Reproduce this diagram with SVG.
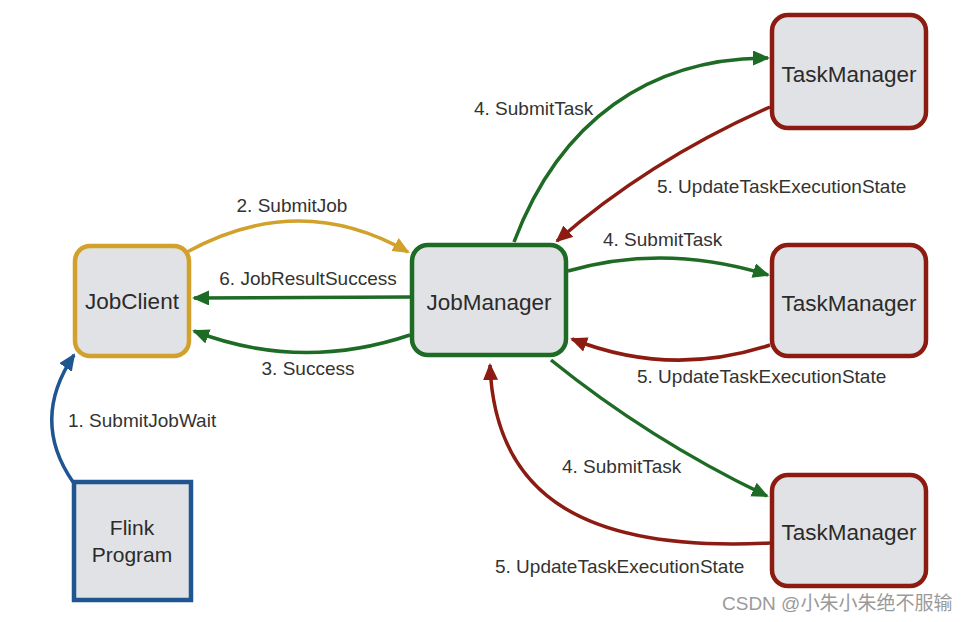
<svg xmlns="http://www.w3.org/2000/svg" width="968" height="622" viewBox="0 0 968 622">
<style>
  .box { fill: #e1e2e5; stroke-width: 4.5; }
  .nt { font-family: "Liberation Sans", Arial, sans-serif; font-size: 22.5px; fill: #2b2b2b; text-anchor: middle; }
  .lb { font-family: "Liberation Sans", Arial, sans-serif; font-size: 19px; fill: #333333; }
  .c { fill: none; stroke-width: 3.5; }
  .g { stroke: #1d6b24; }
  .r { stroke: #8c1c12; }
  .y { stroke: #d1a12c; }
  .b { stroke: #1f5591; }
</style>
<defs>
  <marker id="ag" markerUnits="userSpaceOnUse" markerWidth="18" markerHeight="16" refX="15" refY="7.5" orient="auto"><path d="M0,0 L17,7.5 L0,15 z" fill="#1d6b24"/></marker>
  <marker id="ar" markerUnits="userSpaceOnUse" markerWidth="18" markerHeight="16" refX="15" refY="7.5" orient="auto"><path d="M0,0 L17,7.5 L0,15 z" fill="#8c1c12"/></marker>
  <marker id="ay" markerUnits="userSpaceOnUse" markerWidth="18" markerHeight="16" refX="15" refY="7.5" orient="auto"><path d="M0,0 L17,7.5 L0,15 z" fill="#d1a12c"/></marker>
  <marker id="ab" markerUnits="userSpaceOnUse" markerWidth="18" markerHeight="16" refX="15" refY="7.5" orient="auto"><path d="M0,0 L17,7.5 L0,15 z" fill="#1f5591"/></marker>
</defs>
<rect width="968" height="622" fill="#ffffff"/>

<g id="connectors">
  <path class="c b" d="M73,482 Q 30,420 74,355" marker-end="url(#ab)"/>
  <path class="c y" d="M187,252 Q 300,190 408,252" marker-end="url(#ay)"/>
  <path class="c g" d="M410,297 L 194,298" marker-end="url(#ag)"/>
  <path class="c g" d="M410,335 Q 300,372 194,331" marker-end="url(#ag)"/>
  <path class="c g" d="M514,242 C 560,120 650,58 768,58" marker-end="url(#ag)"/>
  <path class="c r" d="M770,107 Q 650,160 557,241" marker-end="url(#ar)"/>
  <path class="c g" d="M568,271 Q 665,243 768,275" marker-end="url(#ag)"/>
  <path class="c r" d="M770,345 Q 670,378 572,339" marker-end="url(#ar)"/>
  <path class="c g" d="M551,360 Q 650,440 767,496" marker-end="url(#ag)"/>
  <path class="c r" d="M770,543 C 590,552 495,500 490,365" marker-end="url(#ar)"/>
</g>

<g id="labels">
  <text class="lb" x="68" y="427">1. SubmitJobWait</text>
  <text class="lb" x="292" y="212" text-anchor="middle">2. SubmitJob</text>
  <text class="lb" x="308" y="285" text-anchor="middle">6. JobResultSuccess</text>
  <text class="lb" x="308" y="375" text-anchor="middle">3. Success</text>
  <text class="lb" x="474" y="115">4. SubmitTask</text>
  <text class="lb" x="657" y="193">5. UpdateTaskExecutionState</text>
  <text class="lb" x="603" y="246">4. SubmitTask</text>
  <text class="lb" x="637" y="383">5. UpdateTaskExecutionState</text>
  <text class="lb" x="562" y="473">4. SubmitTask</text>
  <text class="lb" x="495" y="573">5. UpdateTaskExecutionState</text>
</g>

<g id="jobclient">
  <rect class="box" x="75" y="246" width="114" height="110" rx="15" stroke="#d1a12c"/>
  <text class="nt" x="132" y="309">JobClient</text>
</g>
<g id="jobmanager">
  <rect class="box" x="412" y="245" width="154" height="110" rx="16" stroke="#1d6b24"/>
  <text class="nt" x="489" y="310">JobManager</text>
</g>
<g id="taskmanager1">
  <rect class="box" x="772" y="15" width="154" height="113" rx="16" stroke="#8c1c12"/>
  <text class="nt" x="849" y="82">TaskManager</text>
</g>
<g id="taskmanager2">
  <rect class="box" x="772" y="245" width="154" height="111" rx="16" stroke="#8c1c12"/>
  <text class="nt" x="849" y="311">TaskManager</text>
</g>
<g id="taskmanager3">
  <rect class="box" x="772" y="475" width="154" height="111" rx="16" stroke="#8c1c12"/>
  <text class="nt" x="849" y="540">TaskManager</text>
</g>
<g id="flinkprogram">
  <rect class="box" x="74" y="482" width="117" height="118" stroke="#1f5591"/>
  <text class="nt" x="132" y="535" style="font-size:21px">Flink</text>
  <text class="nt" x="132" y="562" style="font-size:21px">Program</text>
</g>

<text x="722" y="610" style="font-family:'Liberation Sans','Noto Sans CJK SC',sans-serif;font-size:19px;fill:#9a9a9a">CSDN @小朱小朱绝不服输</text>
</svg>
